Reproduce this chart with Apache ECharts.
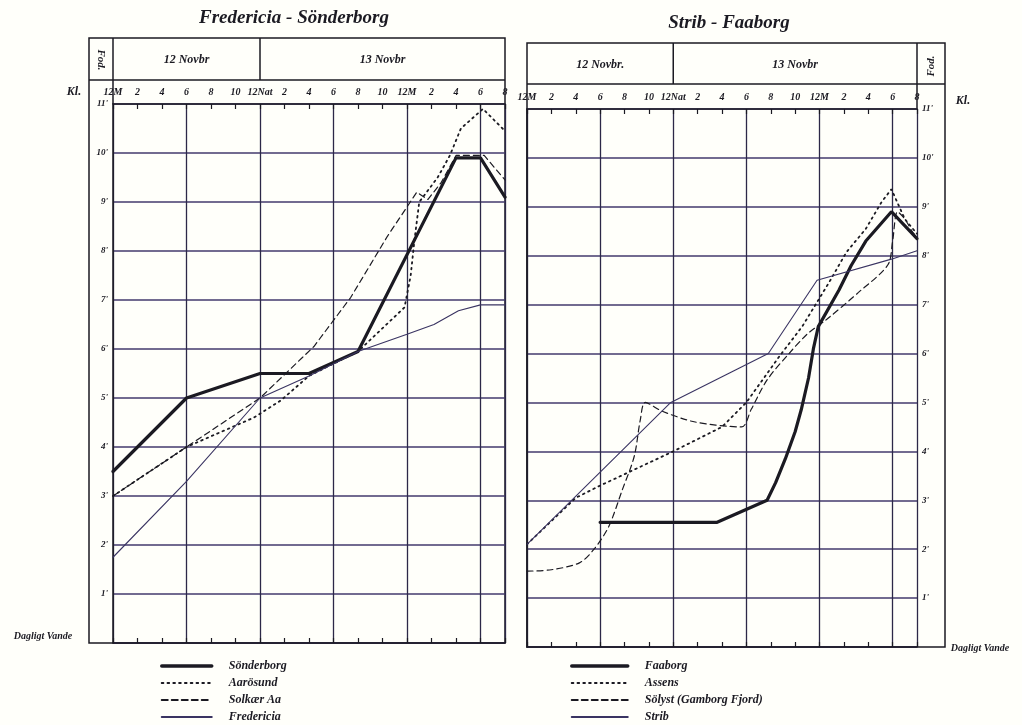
<!DOCTYPE html>
<html><head><meta charset="utf-8">
<script src="https://cdn.jsdelivr.net/npm/echarts/dist/echarts.min.js"></script>
<style>html,body{margin:0;padding:0;background:#fffffa}#c{width:1022px;height:725px}</style>
</head><body><div id="c"></div>
<script>
// ---- data (hours counted from noon, 12 Nov; water level in feet above daily level) ----
const hourLabels = ['12M','2','4','6','8','10','12Nat','2','4','6','8','10','12M','2','4','6','8'];
const dayLabels = ['12 Novbr','13 Novbr'];
const dayLabelsRight = ['12 Novbr.','13 Novbr'];
const leftNames = ['Sönderborg','Aarösund','Solkær Aa','Fredericia'];
const rightNames = ['Faaborg','Assens','Sölyst (Gamborg Fjord)','Strib'];

const soenderborg = [[0,3.5],[6,5.0],[12,5.5],[16,5.5],[20,5.95],[28,9.9],[30,9.9],[32,9.1]];
const aarosund = [[0,3.0],[6,4.0],[11.5,4.6],[13.7,4.95],[16,5.45],[20,5.95],[23.8,6.85],[24.3,7.5],[24.6,8.2],[25,9.0],[26.5,9.5],[27.5,9.95],[28.4,10.5],[30.2,10.9],[32,10.45]];
const solkaer = [[0,3.0],[6,4.0],[12,5.0],[16.4,6.05],[19.4,7.05],[22.4,8.3],[24.8,9.2],[25.7,9.05],[26.8,9.4],[28,9.95],[30.3,9.95],[32,9.45]];
const fredericia = [[0,1.75],[6,3.3],[12,5.0],[16,5.45],[20,5.95],[24,6.3],[26.2,6.5],[28.2,6.78],[30,6.9],[32,6.9]];

const faaborg = [[6,2.55],[15.6,2.55],[19.7,3.0],[20.4,3.36],[21.2,3.85],[22,4.4],[22.5,4.85],[23.1,5.5],[23.5,6.1],[23.9,6.55],[25.6,7.3],[26.6,7.8],[27.8,8.3],[29.9,8.9],[32,8.35]];
const assens = [[0,2.1],[4,3.05],[6,3.3],[12,4.0],[16,4.5],[18,5.0],[20.7,5.94],[22.6,6.56],[24.8,7.46],[26.2,8.07],[27.8,8.55],[29.1,9.1],[29.9,9.36],[31,8.75],[32,8.45]];
const soelyst = [[0,1.55],[2,1.58],[4.3,1.72],[5.5,2.0],[6.7,2.46],[7.8,3.2],[8.8,3.9],[9.3,4.65],[9.7,5.0],[11.1,4.82],[13.8,4.6],[17.6,4.5],[18.4,4.86],[19.7,5.46],[21.5,6.0],[23,6.4],[24.6,6.7],[27.2,7.25],[29.6,7.81],[30.0,8.3],[30.4,8.9],[31,8.75],[31.6,8.5],[32,8.38]];
const strib = [[0,2.1],[11.8,5.0],[19.8,6.0],[23.8,7.5],[29.9,7.93],[32,8.1]];

// ---- layout ----
const L = {left:113, top:104, width:392, height:539};
const R = {left:527, top:109, width:390, height:538};
const INK = '#1b1a22';
const GRIDC = '#433a6c';
const FONT = 'Liberation Serif';

const chart = echarts.init(document.getElementById('c'), null, {renderer:'canvas'});

function xAxes(g){
  return [
    {gridIndex:g, type:'value', min:0, max:32, interval:2, position:'bottom',
     axisLine:{show:true, lineStyle:{color:INK, width:1.5}},
     axisTick:{show:true, inside:true, length:5, lineStyle:{color:INK, width:1.2}},
     axisLabel:{show:false}, splitLine:{show:false}},
    {gridIndex:g, type:'value', min:0, max:32, interval:2, position:'top',
     axisLine:{show:true, lineStyle:{color:INK, width:1.5}},
     axisTick:{show:true, inside:true, length:5, lineStyle:{color:INK, width:1.2}},
     axisLabel:{show:true, margin:7, formatter:v=>hourLabels[Math.round(v/2)],
       fontFamily:FONT, fontStyle:'italic', fontWeight:'bold', fontSize:10, color:INK},
     splitLine:{show:false}},
    {gridIndex:g, type:'value', min:0, max:32, interval:6, position:'bottom',
     axisLine:{show:false}, axisTick:{show:false}, axisLabel:{show:false},
     splitLine:{show:true, lineStyle:{color:'#2c2848', width:1.3}}}
  ];
}
function yAxis(g, pos){
  return {gridIndex:g, type:'value', min:0, max:11, interval:1, position:pos,
    axisLine:{show:true, lineStyle:{color:INK, width:1.5}},
    axisTick:{show:false},
    axisLabel:{show:true, margin:5, formatter:v=> v===0 ? '' : v+"'",
      fontFamily:FONT, fontStyle:'italic', fontWeight:'bold', fontSize:9, color:INK},
    splitLine:{show:true, lineStyle:{color:GRIDC, width:1.6}}};
}
function ser(name, data, xi, yi, style){
  const c = style.color||INK;
  return {name, type:'line', data, xAxisIndex:xi, yAxisIndex:yi, symbol:'none', showSymbol:false,
    smooth: style.smooth||false, itemStyle:{color:c},
    lineStyle:{color:c, width:style.width, type:style.type||'solid', cap:'round'},
    z:5, animation:false};
}
const T = (text, x, y, size, extra) => Object.assign({type:'text', x, y, silent:true,
  style:{text, fill:INK, font:`italic bold ${size}px "${FONT}"`, textAlign:'center', textVerticalAlign:'middle', align:'center', verticalAlign:'middle'}}, extra||{});
const hx = (P,h)=>P.left + h/32*P.width;
const legendText = {fontFamily:FONT, fontStyle:'italic', fontWeight:'bold', fontSize:12, lineHeight:12, color:INK, padding:[0,0,0,12]};
const legendBase = {orient:'vertical', top:660, padding:0, itemHeight:10, itemGap:5,
  selectedMode:false, textStyle:legendText, itemStyle:{opacity:0, borderWidth:0}};
const legendData = names => names.map((n,i)=> i===0 ? {name:n, lineStyle:{width:3.5}} : {name:n});

chart.setOption({
  backgroundColor:'#fffffa',
  animation:false,
  grid:[
    {left:L.left, top:L.top, width:L.width, height:L.height},
    {left:R.left, top:R.top, width:R.width, height:R.height}
  ],
  xAxis:[...xAxes(0), ...xAxes(1)],
  yAxis:[yAxis(0,'left'), yAxis(1,'right')],
  legend:[
    Object.assign({}, legendBase, {data:legendData(leftNames), left:160, itemWidth:50}),
    Object.assign({}, legendBase, {data:legendData(rightNames), left:570, itemWidth:56})
  ],
  series:[
    ser(leftNames[0], soenderborg, 0, 0, {width:3.2}),
    ser(leftNames[1], aarosund, 0, 0, {width:1.8, type:[1.6,4.2]}),
    ser(leftNames[2], solkaer, 0, 0, {width:1.2, type:[6,4]}),
    ser(leftNames[3], fredericia, 0, 0, {width:1.1, color:'#3a3462'}),
    ser(rightNames[0], faaborg, 3, 1, {width:3.2}),
    ser(rightNames[1], assens, 3, 1, {width:1.8, type:[1.6,4.2]}),
    ser(rightNames[2], soelyst, 3, 1, {width:1.2, type:[6,4], smooth:0.3}),
    ser(rightNames[3], strib, 3, 1, {width:1.1, color:'#3a3462'})
  ],
  graphic:[
    // left frame
    {type:'rect', silent:true, shape:{x:89, y:38, width:L.left+L.width-89, height:L.top+L.height-38}, style:{fill:'none', stroke:INK, lineWidth:1.5}},
    {type:'line', silent:true, shape:{x1:89, y1:80, x2:L.left+L.width, y2:80}, style:{stroke:INK, lineWidth:1.5}},
    {type:'line', silent:true, shape:{x1:L.left, y1:38, x2:L.left, y2:L.top}, style:{stroke:INK, lineWidth:1.5}},
    {type:'line', silent:true, shape:{x1:hx(L,12), y1:38, x2:hx(L,12), y2:80}, style:{stroke:INK, lineWidth:1.5}},
    // right frame
    {type:'rect', silent:true, shape:{x:R.left, y:43, width:945-R.left, height:R.top+R.height-43}, style:{fill:'none', stroke:INK, lineWidth:1.5}},
    {type:'line', silent:true, shape:{x1:R.left, y1:84, x2:945, y2:84}, style:{stroke:INK, lineWidth:1.5}},
    {type:'line', silent:true, shape:{x1:R.left+R.width, y1:43, x2:R.left+R.width, y2:R.top}, style:{stroke:INK, lineWidth:1.5}},
    {type:'line', silent:true, shape:{x1:hx(R,12), y1:43, x2:hx(R,12), y2:84}, style:{stroke:INK, lineWidth:1.5}},
    // titles
    T('Fredericia - Sönderborg', 294, 18, 19),
    T('Strib - Faaborg', 729, 23, 19),
    // day headers
    T(dayLabels[0], (hx(L,0)+hx(L,12))/2, 60, 12),
    T(dayLabels[1], (hx(L,12)+hx(L,32))/2, 60, 12),
    T(dayLabelsRight[0], (hx(R,0)+hx(R,12))/2, 65, 12),
    T(dayLabelsRight[1], (hx(R,12)+hx(R,32))/2, 65, 12),
    // Fod / Kl / Dagligt Vande
    T('Fod.', 101, 60, 11, {rotation:-Math.PI/2}),
    T('Fod.', 931, 66, 11, {rotation:Math.PI/2}),
    T('Kl.', 74, 92, 12),
    T('Kl.', 963, 101, 12),
    T('Dagligt Vande', 43, 636, 10),
    T('Dagligt Vande', 980, 648, 10)
  ]
});
</script></body></html>
